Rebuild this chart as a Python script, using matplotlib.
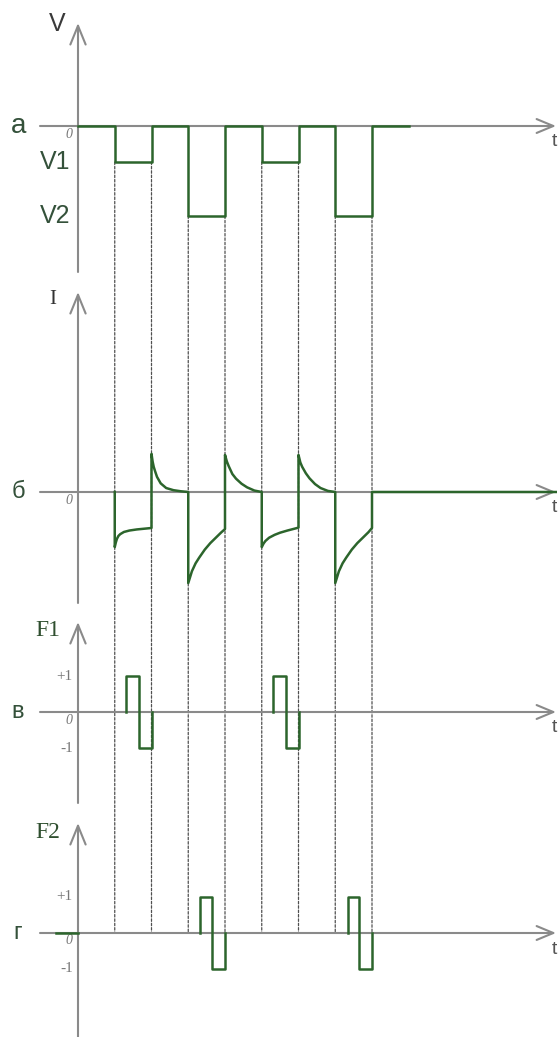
import matplotlib.pyplot as plt
from matplotlib.patches import ConnectionPatch

# V(t): step levels, each level holds from v_edges[k] to v_edges[k+1]
v_edges = [0, 1, 2, 3, 4, 5, 6, 7, 8, 9]
v_levels = [0, -1, 0, -2.5, 0, -1, 0, -2.5, 0, 0]
v_names = ['V1', 'V2']
v_name_levels = [-1, -2.5]

# I(t): points
i_t = [1.0, 1.0, 1.03, 1.06, 1.1, 1.15, 1.25, 1.4, 1.6, 1.8, 2.0,
       2.0, 2.03, 2.06, 2.1, 2.15, 2.25, 2.4, 2.6, 2.8, 3.0,
       3.0, 3.1, 3.2, 3.3, 3.45, 3.6, 3.75, 3.9, 4.0,
       4.0, 4.05, 4.1, 4.2, 4.3, 4.45, 4.6, 4.8, 5.0,
       5.0, 5.05, 5.1, 5.2, 5.35, 5.5, 5.7, 5.85, 6.0,
       6.0, 6.05, 6.1, 6.2, 6.3, 6.45, 6.6, 6.8, 7.0,
       7.0, 7.1, 7.2, 7.3, 7.45, 7.6, 7.75, 7.9, 8.0,
       8.0, 13.0]
i_v = [0, -1.53, -1.40, -1.30, -1.22, -1.17, -1.11, -1.07, -1.04, -1.02, -1.0,
       1.06, 0.85, 0.70, 0.57, 0.42, 0.24, 0.11, 0.05, 0.02, 0.0,
       -2.53, -2.20, -1.98, -1.82, -1.60, -1.42, -1.27, -1.12, -1.03,
       1.03, 0.85, 0.72, 0.50, 0.37, 0.23, 0.13, 0.04, 0.0,
       -1.53, -1.43, -1.36, -1.27, -1.19, -1.13, -1.07, -1.03, -0.99,
       1.03, 0.82, 0.70, 0.52, 0.38, 0.22, 0.11, 0.03, 0.0,
       -2.53, -2.20, -1.98, -1.82, -1.60, -1.42, -1.27, -1.12, -1.0,
       0.0, 0.0]

# F1, F2 pulses: +1 from rise to flip, -1 from flip to end
f1_rise = [1.3, 5.3]
f1_flip = [1.65, 5.66]
f1_end = [2.0, 6.0]
f2_rise = [3.32, 7.34]
f2_flip = [3.64, 7.65]
f2_end = [4.0, 8.0]
f2_lead = [-0.6, 0.0]

GREEN = '#2c652c'
GRAY = '#8a8a8a'
DASH = '#505050'
LBL = '#34513a'
SANS = 'Liberation Sans'
SERIF = 'Liberation Serif'

W, H = 559, 1037
X0 = 78          # px of t = 0
PX_T = 36.75     # px per time unit
PX_U = 36.0      # px per value unit
t_min = -X0 / PX_T
t_max = (W - X0) / PX_T
t_ax_start = (40 - X0) / PX_T
t_ax_tip = (556 - X0) / PX_T

# band top, band bottom, zero line, arrow tip, axis bottom (px)
layout = [(0, 280, 126, 23, 272),
          (280, 610, 492, 292, 603),
          (610, 812, 712, 622, 803),
          (812, 1037, 933, 823, 1037)]

fig = plt.figure(figsize=(W / 100, H / 100), dpi=100)


def make_panel(top, bot, y0, tip, bottom):
    ax = fig.add_axes([0, 1 - bot / H, 1, (bot - top) / H])
    ax.set_xlim(t_min, t_max)
    ax.set_ylim(-(bot - y0) / PX_U, (y0 - top) / PX_U)
    ax.axis('off')
    ax.patch.set_alpha(0)
    hprops = dict(arrowstyle='->,head_length=1.2,head_width=0.5',
                  color=GRAY, lw=1.5, shrinkA=0, shrinkB=0)
    vprops = dict(arrowstyle='->,head_length=1.35,head_width=0.55',
                  color=GRAY, lw=1.5, shrinkA=0, shrinkB=0)
    ax.annotate('', xy=(t_ax_tip, 0), xytext=(t_ax_start, 0),
                arrowprops=hprops, annotation_clip=False)
    ax.annotate('', xy=(0, (y0 - tip) / PX_U), xytext=(0, (y0 - bottom) / PX_U),
                arrowprops=vprops, annotation_clip=False)
    ax.text(t_ax_tip - 0.05, -16 / PX_U, 't', fontsize=14, family=SANS,
            color='#555555', ha='center', va='center')
    ax.text(-0.24, -8 / PX_U, '0', fontsize=10, family=SERIF, style='italic',
            color='#777777', ha='center', va='center')
    return ax


axes = [make_panel(*p) for p in layout]
ax_a, ax_b, ax_c, ax_d = axes

# panel a: V
ax_a.plot(v_edges, v_levels, drawstyle='steps-post', color=GREEN, lw=1.8, zorder=3)
for name, lvl in zip(v_names, v_name_levels):
    ax_a.text(-0.2, lvl, name, fontsize=18, family=SANS, color=LBL,
              ha='right', va='center')
ax_a.text(-0.57, (126 - 24) / PX_U, 'V', fontsize=18, family=SANS,
          color='#3a3a3a', ha='center', va='center')
ax_a.text(-1.63, 0, 'а', fontsize=20, family=SANS, color=LBL, ha='center', va='center')

# panel б: I
ax_b.plot(i_t, i_v, color=GREEN, lw=1.8, zorder=3)
ax_b.text(-0.7, (492 - 300) / PX_U, 'I', fontsize=15, family=SERIF,
          color='#333333', ha='center', va='center')
ax_b.text(-1.63, 0, 'б', fontsize=17, family=SANS, color=LBL, ha='center', va='center')


def pulse_panel(ax, rises, flips, ends, name, name_y, letter):
    for r, f, e in zip(rises, flips, ends):
        ax.plot([r, r, f, f, e, e], [0, 1, 1, -1, -1, 0], color=GREEN, lw=1.8, zorder=3)
    ax.text(-0.14, 1, '+1', fontsize=11, family=SERIF, color='#777777',
            ha='right', va='center')
    ax.text(-0.14, -1, '-1', fontsize=11, family=SERIF, color='#777777',
            ha='right', va='center')
    ax.text(-0.82, name_y, name, fontsize=17, family=SERIF, color='#2f4f2f',
            ha='center', va='center')
    ax.text(-1.63, 0, letter, fontsize=17, family=SANS, color=LBL,
            ha='center', va='center')


pulse_panel(ax_c, f1_rise, f1_flip, f1_end, 'F1', (712 - 630) / PX_U, 'в')
pulse_panel(ax_d, f2_rise, f2_flip, f2_end, 'F2', (933 - 832) / PX_U, 'г')
ax_d.plot(f2_lead, [0, 0], color=GREEN, lw=1.8, zorder=3)

# dashed guides from each V edge down to the last time axis
for k in range(1, len(v_edges) - 1):
    lvl = min(v_levels[k - 1], v_levels[k])
    con = ConnectionPatch(xyA=(v_edges[k], lvl), coordsA=ax_a.transData,
                          xyB=(v_edges[k], 0), coordsB=ax_d.transData,
                          color=DASH, lw=0.9, linestyle=(0, (2, 1.5)))
    con.set_zorder(-1)
    fig.add_artist(con)

fig.savefig('out.png', dpi=100, facecolor='white')
